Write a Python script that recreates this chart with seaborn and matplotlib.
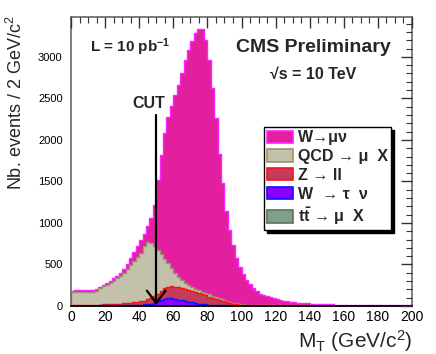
import numpy as np
import pandas as pd
import matplotlib
matplotlib.use("Agg")
import matplotlib.pyplot as plt
import seaborn as sns
from matplotlib.patches import Patch
from matplotlib.ticker import MultipleLocator
from matplotlib.font_manager import FontProperties

# ---------------- data (stack tops, 2 GeV bins 0..200) ----
bin_edges = list(range(0, 202, 2))

total_top = [185, 188, 190, 190, 190, 192, 195, 205, 233, 255,
             275, 300, 335, 365, 400, 440, 510, 580, 650, 720,
             790, 870, 960, 1060, 1220, 1520, 1820, 2080, 2270, 2410,
             2540, 2665, 2800, 2965, 3085, 3185, 3285, 3335, 3335, 3205,
             2965, 2620, 2260, 1830, 1480, 1140, 915, 735, 575, 465,
             380, 315, 262, 215, 175, 150, 135, 120, 105, 95,
             82, 72, 64, 57, 51, 46, 42, 38, 35, 32,
             29, 27, 25, 23, 21, 20, 19, 18, 17, 16,
             15, 14, 13, 13, 12, 12, 11, 11, 10, 10,
             9, 9, 9, 8, 8, 8, 7, 7, 7, 7]

qcd_top = [168, 170, 170, 170, 170, 171, 173, 185, 213, 235,
           258, 280, 305, 335, 365, 400, 445, 494, 545, 594,
           640, 720, 775, 760, 720, 680, 625, 570, 515, 460,
           400, 355, 315, 280, 250, 228, 205, 188, 170, 155,
           140, 125, 110, 95, 80, 62, 50, 40, 32, 25,
           20, 17, 15, 13, 11, 10, 9, 8, 7, 7,
           6, 6, 6, 5, 5, 5, 5, 4, 4, 4,
           4, 4, 4, 3, 3, 3, 3, 3, 3, 3,
           3, 3, 3, 3, 2, 2, 2, 2, 2, 2,
           2, 2, 2, 2, 2, 2, 2, 2, 2, 2]

zll_top = [12, 12, 12, 13, 13, 14, 15, 16, 18, 20,
           22, 24, 26, 28, 30, 33, 36, 40, 45, 50,
           56, 65, 80, 95, 120, 150, 185, 215, 232, 235,
           232, 226, 218, 208, 196, 184, 170, 155, 142, 128,
           112, 97, 82, 68, 55, 44, 35, 28, 22, 17,
           13, 11, 9, 8, 7, 6, 6, 5, 5, 5,
           4, 4, 4, 4, 3, 3, 3, 3, 3, 3,
           3, 3, 3, 3, 2, 2, 2, 2, 2, 2,
           2, 2, 2, 2, 2, 2, 2, 2, 2, 2,
           2, 2, 2, 2, 2, 2, 2, 2, 2, 2]

wtau_top = [6, 6, 6, 6, 6, 6, 6, 6, 7, 7,
            8, 8, 9, 9, 10, 11, 12, 13, 14, 16,
            18, 20, 23, 30, 42, 58, 75, 90, 100, 98,
            88, 78, 70, 60, 52, 45, 38, 30, 24, 20,
            16, 13, 12, 10, 9, 8, 7, 6, 6, 5,
            5, 5, 4, 4, 4, 4, 3, 3, 3, 3,
            3, 3, 3, 3, 3, 2, 2, 2, 2, 2,
            2, 2, 2, 2, 2, 2, 2, 2, 2, 2,
            2, 2, 2, 2, 2, 2, 2, 2, 2, 2,
            1, 1, 1, 1, 1, 1, 1, 1, 1, 1]

ttbar_top = [1, 1, 1, 1, 1, 1, 1, 1, 1, 1,
             2, 2, 2, 2, 2, 2, 2, 2, 3, 3,
             3, 3, 3, 3, 4, 4, 4, 4, 4, 4,
             4, 4, 4, 4, 4, 4, 3, 3, 3, 3,
             3, 3, 3, 3, 2, 2, 2, 2, 2, 2,
             2, 2, 2, 2, 2, 1, 1, 1, 1, 1,
             1, 1, 1, 1, 1, 1, 1, 1, 1, 1,
             1, 1, 1, 1, 1, 1, 1, 1, 1, 1,
             1, 1, 1, 1, 1, 1, 1, 1, 1, 1,
             1, 1, 1, 1, 1, 1, 1, 1, 1, 1]

labels = ["W\u2192\u03bc\u03bd", "QCD \u2192 \u03bc  X", "Z \u2192 ll",
          "W  \u2192 \u03c4  \u03bd", "t$\\mathbf{\\bar{t}}$ \u2192 \u03bc  X"]
fills = ["#e21f9f", "#c4c1aa", "#c43c5c", "#8a00ff", "#7f9f89"]
edges = ["#ff22ff", "#9c9270", "#ff1010", "#1010ff", "#607060"]
cut_value = 50

# ---------------- figure ----------------
sns.set_theme(style="white")
plt.rcParams['font.family'] = ['Liberation Sans', 'DejaVu Sans']
plt.rcParams['mathtext.fontset'] = 'custom'
plt.rcParams['mathtext.rm'] = 'Liberation Sans'
plt.rcParams['mathtext.bf'] = 'Liberation Sans:bold'
plt.rcParams['mathtext.it'] = 'Liberation Sans:italic'

W, H = 436, 354
fig = plt.figure(figsize=(W / 100, H / 100), dpi=100)
ax = fig.add_axes([71 / W, 1 - 306 / H, (412 - 71) / W, (306 - 17) / H])

centers = [(a + b) / 2 for a, b in zip(bin_edges[:-1], bin_edges[1:])]
layers = [total_top, qcd_top, zll_top, wtau_top, ttbar_top]
for vals, fc, ec in zip(layers, fills, edges):
    df = pd.DataFrame({"x": centers, "w": vals})
    sns.histplot(data=df, x="x", weights="w", bins=bin_edges, element="step",
                 fill=True, color=fc, alpha=1, edgecolor=ec, linewidth=1.0,
                 ax=ax)

ax.set_xlim(0, 200)
ax.set_ylim(0, 3480)
ax.set_xlabel("")
ax.set_ylabel("")

ax.xaxis.set_major_locator(MultipleLocator(20))
ax.xaxis.set_minor_locator(MultipleLocator(5))
ax.yaxis.set_major_locator(MultipleLocator(500))
ax.yaxis.set_minor_locator(MultipleLocator(100))
ax.tick_params(axis='both', which='both', direction='in', top=True, right=True,
               colors='#333333')
ax.tick_params(axis='both', which='major', length=8, width=1)
ax.tick_params(axis='both', which='minor', length=4, width=0.8)
ax.tick_params(axis='x', which='major', labelsize=10, pad=3, labelcolor='black')
ax.tick_params(axis='y', which='major', labelsize=8, pad=6, labelcolor='black')
for s in ['left', 'top', 'right']:
    ax.spines[s].set_color('#666666')
    ax.spines[s].set_linewidth(1.2)
ax.spines['bottom'].set_color('black')
ax.spines['bottom'].set_linewidth(1.2)
ax.set_axisbelow(False)

# cut arrow
ax.plot([cut_value, cut_value], [2300, 35], color='black', lw=1.6, zorder=5)
ax.plot([cut_value - 5.5, cut_value, cut_value + 5.5], [185, 35, 185],
        color='black', lw=1.6, zorder=5)

def ftext(x, y, s, **kw):
    fig.text(x / W, 1 - y / H, s, **kw)

ftext(149, 104, "CUT", fontsize=11.5, fontweight='bold', ha='center', va='center')
ftext(90, 47, r"L = 10 pb$^{\mathbf{-1}}$", fontsize=11, fontweight='bold',
      ha='left', va='center')
ftext(313.5, 48, "CMS Preliminary", fontsize=14, fontweight='bold',
      ha='center', va='center')
ftext(313.5, 74, "\u221as = 10 TeV", fontsize=11.5, fontweight='bold',
      ha='center', va='center')
ftext(16, 15, r"Nb. events / 2 GeV/c$^{2}$", fontsize=13, rotation=90,
      ha='center', va='top')
ftext(412, 341, r"M$_{\mathrm{T}}$ (GeV/c$^{2}$)", fontsize=15,
      ha='right', va='center')

handles = [Patch(facecolor=fc, edgecolor=ec, linewidth=1.2)
           for fc, ec in zip(fills, edges)]
leg = ax.legend(handles, labels, loc='upper left',
                bbox_to_anchor=(264 / W, 1 - 127 / H),
                bbox_transform=fig.transFigure,
                frameon=True, fancybox=False, edgecolor='black', framealpha=1,
                shadow={'color': 'black', 'alpha': 1},
                prop=FontProperties(family=['Liberation Sans', 'DejaVu Sans'],
                                    weight='bold', size=11.5),
                handlelength=1.6, handleheight=0.8, labelspacing=0.24,
                borderpad=0.2, handletextpad=0.3, borderaxespad=0)
leg.get_frame().set_linewidth(1.0)

fig.savefig("out.png", dpi=100)
